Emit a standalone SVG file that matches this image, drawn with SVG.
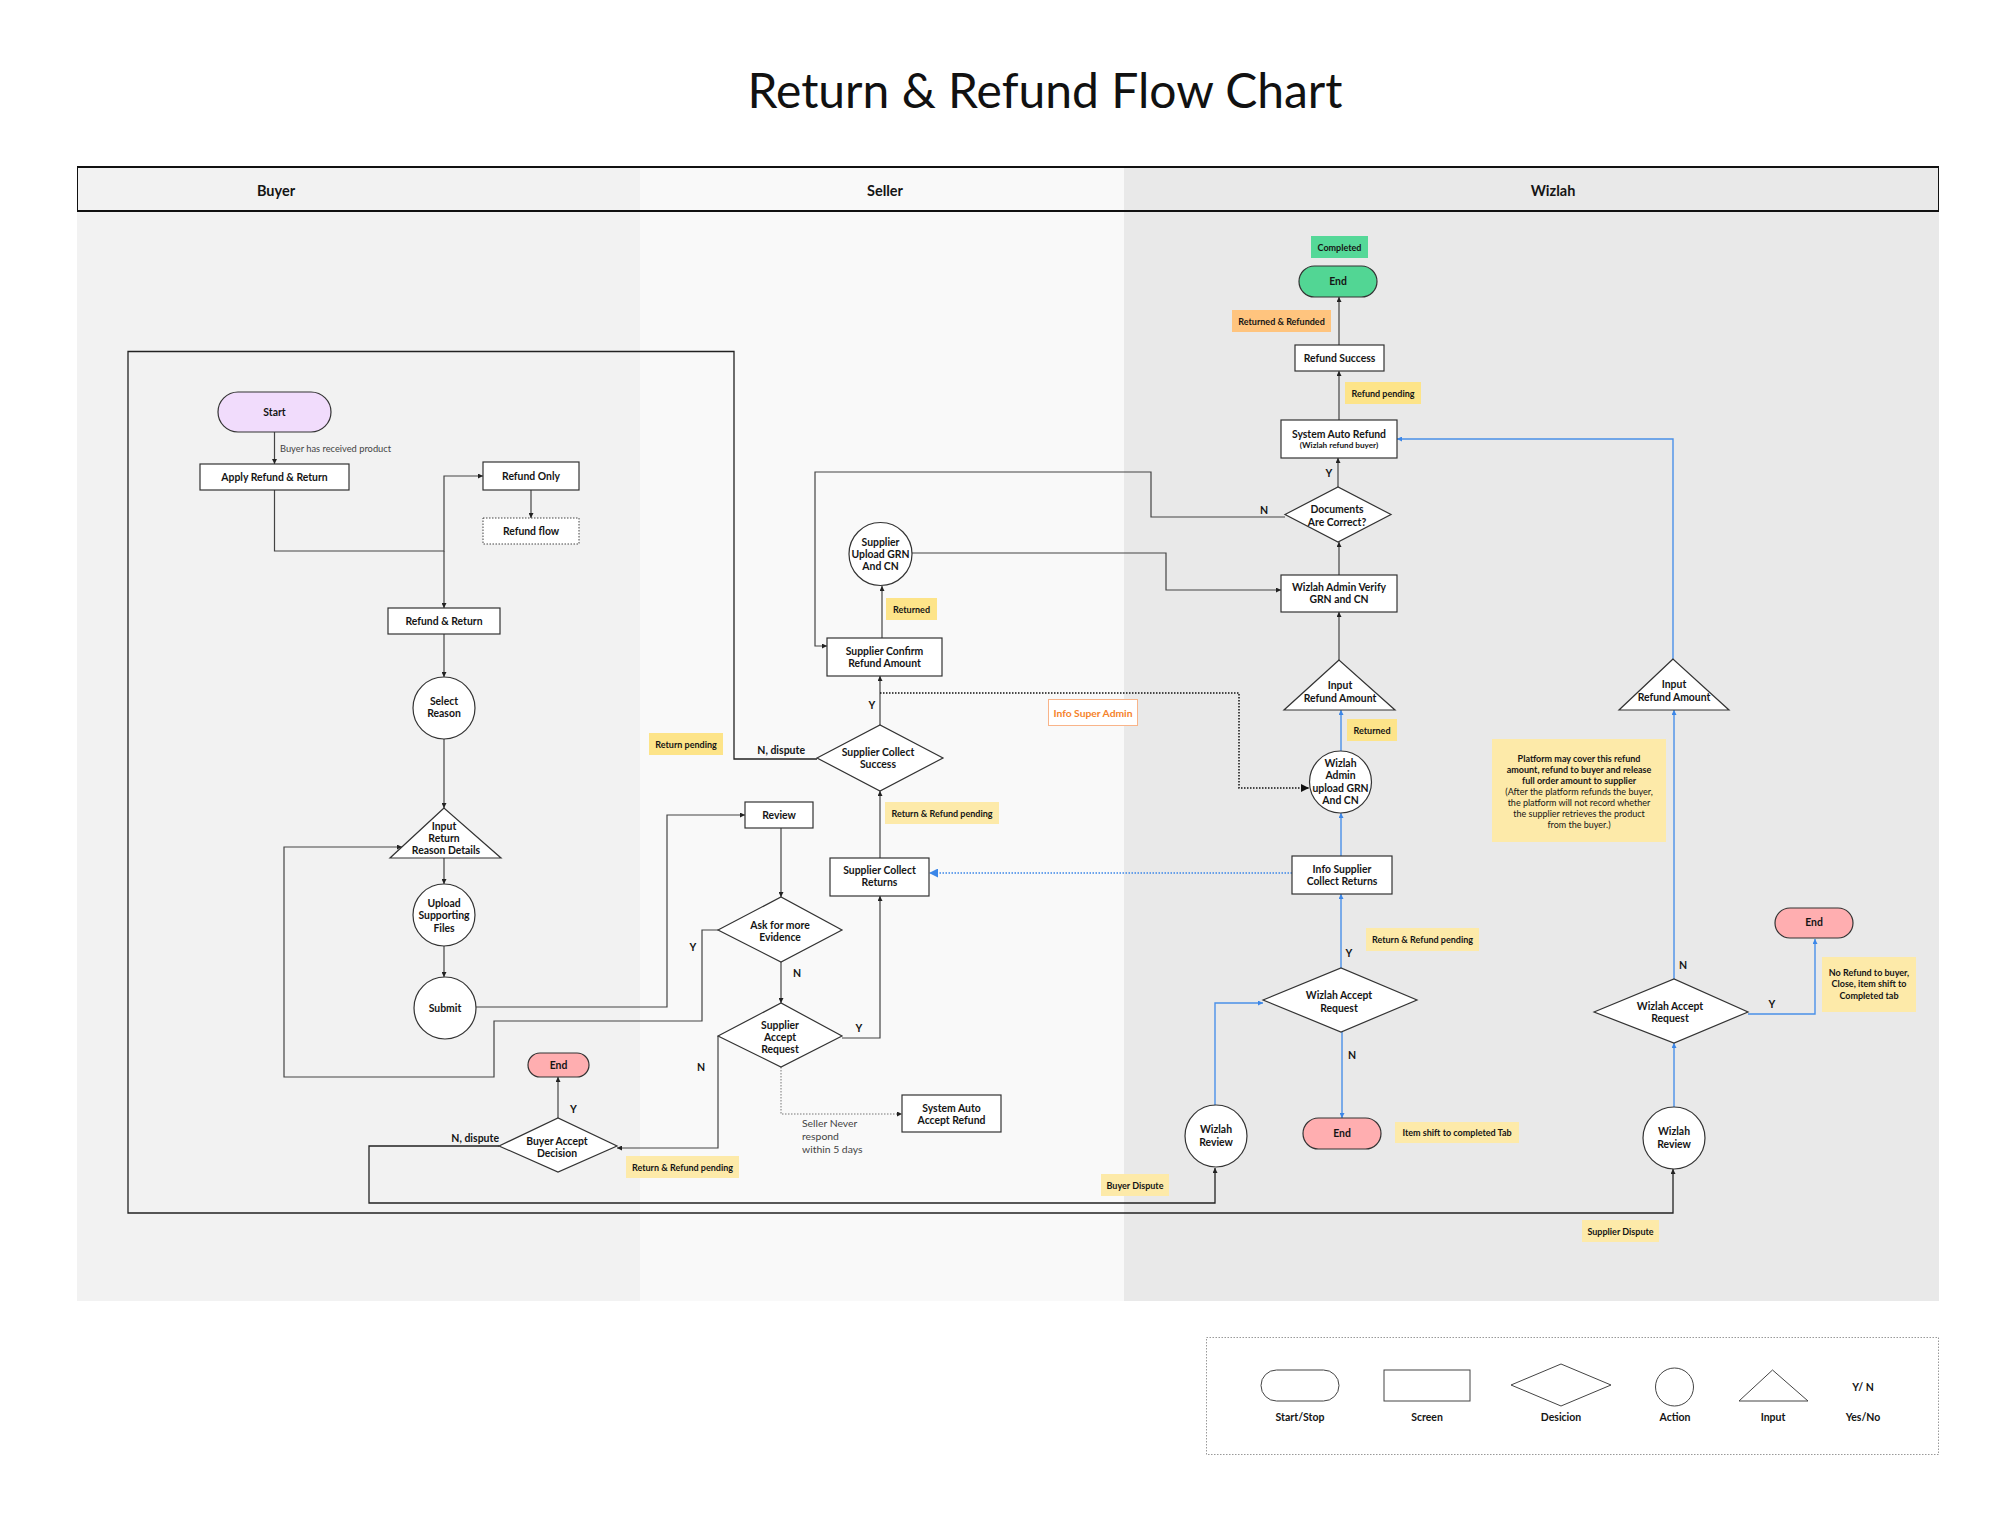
<svg xmlns="http://www.w3.org/2000/svg" width="2014" height="1519" viewBox="0 0 2014 1519">
<style>
text{font-family:Lato,"Liberation Sans",sans-serif;fill:#151515}
.t{font-weight:700;font-size:10.4px;text-anchor:middle}
.ts{font-weight:700;font-size:8.2px;text-anchor:middle}
.tg{font-weight:700;font-size:9px;text-anchor:middle}
.lb{font-weight:700;font-size:10.5px}
.rg{font-weight:400;font-size:10.4px;fill:#444}
.nt{font-size:9px;text-anchor:middle}
.hd{font-weight:700;font-size:14.5px;text-anchor:middle}
.box{fill:#fff;stroke:#333;stroke-width:1.2}
.ln{fill:none;stroke:#444;stroke-width:1.2}
.bl{fill:none;stroke:#4a90e8;stroke-width:1.4}
.y1{fill:#fde489}
.y2{fill:#fdeaa9}
.lg{fill:#fff;stroke:#444;stroke-width:1}
.lt{font-weight:700;font-size:10.5px;text-anchor:middle}
</style>
<defs>
<marker id="ah" viewBox="0 0 6 6" refX="6" refY="3" markerWidth="5" markerHeight="5" orient="auto" markerUnits="userSpaceOnUse"><path d="M0,0L6,3L0,6z" fill="#222"/></marker>
<marker id="ahb" viewBox="0 0 6 6" refX="6" refY="3" markerWidth="5" markerHeight="5" orient="auto" markerUnits="userSpaceOnUse"><path d="M0,0L6,3L0,6z" fill="#3b86e8"/></marker>
<marker id="ahl" viewBox="0 0 6 6" refX="6" refY="3" markerWidth="9" markerHeight="9" orient="auto" markerUnits="userSpaceOnUse"><path d="M0,0L6,3L0,6z" fill="#3b86e8"/></marker>
<marker id="ahd" viewBox="0 0 6 6" refX="6" refY="3" markerWidth="8" markerHeight="8" orient="auto" markerUnits="userSpaceOnUse"><path d="M0,0L6,3L0,6z" fill="#111"/></marker>
</defs>
<rect width="2014" height="1519" fill="#fff"/>
<text x="1045" y="108" style="font-size:48px;font-weight:400;text-anchor:middle;fill:#111">Return &amp; Refund Flow Chart</text>

<g id="lanes">
<rect x="77" y="166" width="563" height="1135" fill="#f2f2f2"/>
<rect x="640" y="166" width="484" height="1135" fill="#f9f9f9"/>
<rect x="1124" y="166" width="815" height="1135" fill="#e9e9e9"/>
<line x1="77" y1="167" x2="1939" y2="167" stroke="#111" stroke-width="2"/>
<line x1="77" y1="211" x2="1939" y2="211" stroke="#111" stroke-width="2"/>
<line x1="77.5" y1="166" x2="77.5" y2="211" stroke="#111" stroke-width="1"/>
<line x1="1938.5" y1="166" x2="1938.5" y2="211" stroke="#111" stroke-width="1"/>
<text class="hd" x="276" y="196">Buyer</text>
<text class="hd" x="885" y="196">Seller</text>
<text class="hd" x="1553" y="196">Wizlah</text>
</g>

<g id="connectors">
<path class="ln" d="M274.5,432V464" marker-end="url(#ah)"/>
<path class="ln" d="M274.5,490V551H444V476H483" marker-end="url(#ah)"/>
<path class="ln" d="M444,551V608" marker-end="url(#ah)"/>
<path class="ln" d="M531,490V518" marker-end="url(#ah)"/>
<path class="ln" d="M444,634V677" marker-end="url(#ah)"/>
<path class="ln" d="M444,739V808" marker-end="url(#ah)"/>
<path class="ln" d="M444,858V884" marker-end="url(#ah)"/>
<path class="ln" d="M444,946V977" marker-end="url(#ah)"/>
<path class="ln" d="M476,1007H667V815H745" marker-end="url(#ah)"/>
<path class="ln" d="M781,828V897" marker-end="url(#ah)"/>
<path class="ln" d="M718,930H702V1021H494V1077H284V847H402" marker-end="url(#ah)"/>
<path class="ln" d="M781,962V1003" marker-end="url(#ah)"/>
<path class="ln" d="M842,1038H880V896" marker-end="url(#ah)"/>
<path class="ln" d="M718,1036V1148H617" marker-end="url(#ah)"/>
<path d="M781,1067V1114H902" fill="none" stroke="#777" stroke-width="1" stroke-dasharray="1.5,1.5" marker-end="url(#ah)"/>
<path class="ln" d="M880,858V791" marker-end="url(#ah)"/>
<path class="ln" d="M880,725V676" marker-end="url(#ah)"/>
<path d="M817,759H734V351.5H128V1213H1673V1169" fill="none" stroke="#222" stroke-width="1.3" marker-end="url(#ah)"/>
<path d="M880,693H1239V788H1309" fill="none" stroke="#111" stroke-width="1.5" stroke-dasharray="1.5,1.5" marker-end="url(#ahd)"/>
<path class="ln" d="M882,638V586" marker-end="url(#ah)"/>
<path class="ln" d="M912,553H1166V590H1281" marker-end="url(#ah)"/>
<path class="ln" d="M1285,517H1151V472H815V646H827" marker-end="url(#ah)"/>
<path class="ln" d="M1339,575V542" marker-end="url(#ah)"/>
<path class="ln" d="M1338,487V458" marker-end="url(#ah)"/>
<path class="ln" d="M1339,420V371" marker-end="url(#ah)"/>
<path class="ln" d="M1339,345V297" marker-end="url(#ah)"/>
<path class="ln" d="M1339,660V612" marker-end="url(#ah)"/>
<path class="ln" d="M558,1118V1077" marker-end="url(#ah)"/>
<path d="M499,1146H369V1203H1215V1168" fill="none" stroke="#222" stroke-width="1.3" marker-end="url(#ah)"/>
<path class="bl" d="M1341,751V710" marker-end="url(#ahb)"/>
<path class="bl" d="M1341,856V813" marker-end="url(#ahb)"/>
<path d="M1292,873H929" fill="none" stroke="#3b86e8" stroke-width="1.6" stroke-dasharray="1.5,1.5" marker-end="url(#ahl)"/>
<path class="bl" d="M1341,968V894" marker-end="url(#ahb)"/>
<path class="bl" d="M1342,1032V1118" marker-end="url(#ahb)"/>
<path class="bl" d="M1215,1105V1003H1263" marker-end="url(#ahb)"/>
<path class="bl" d="M1674,1107V1043" marker-end="url(#ahb)"/>
<path class="bl" d="M1674,979V710" marker-end="url(#ahb)"/>
<path class="bl" d="M1748,1014H1815V939" marker-end="url(#ahb)"/>
<path class="bl" d="M1673,659V439H1397" marker-end="url(#ahb)"/>
<text class="rg" x="280" y="452" style="font-size:9.3px">Buyer has received product</text>
<text class="lb" x="570" y="1113">Y</text>
<text class="lb" x="499" y="1141.5" text-anchor="end">N, dispute</text>
<text class="lb" x="805" y="754" text-anchor="end">N, dispute</text>
<text class="lb" x="872" y="709" text-anchor="middle">Y</text>
<text class="lb" x="693" y="951" text-anchor="middle">Y</text>
<text class="lb" x="797" y="977" text-anchor="middle">N</text>
<text class="lb" x="859" y="1032" text-anchor="middle">Y</text>
<text class="lb" x="701" y="1071" text-anchor="middle">N</text>
<text class="rg" x="802" y="1127">Seller Never</text>
<text class="rg" x="802" y="1140">respond</text>
<text class="rg" x="802" y="1152.5">within 5 days</text>
<text class="lb" x="1264" y="514" text-anchor="middle">N</text>
<text class="lb" x="1329" y="477" text-anchor="middle">Y</text>
<text class="lb" x="1349" y="957" text-anchor="middle">Y</text>
<text class="lb" x="1352" y="1059" text-anchor="middle">N</text>
<text class="lb" x="1683" y="969" text-anchor="middle">N</text>
<text class="lb" x="1772" y="1008" text-anchor="middle">Y</text>
</g>

<g id="start"><rect x="218" y="392" width="113" height="40" rx="20" fill="#f1dcfc" stroke="#333" stroke-width="1.2"/><text class="t" x="274.5" y="415.5">Start</text></g>
<g id="apply"><rect class="box" x="200" y="464" width="149" height="26"/><text class="t" x="274.5" y="480.5">Apply Refund &amp; Return</text></g>
<g id="refund-only"><rect class="box" x="483" y="462" width="96" height="28"/><text class="t" x="531" y="479.5">Refund Only</text></g>
<g id="refund-flow"><rect x="483" y="518" width="96" height="26" fill="#fff" stroke="#444" stroke-width="1" stroke-dasharray="1.5,1.5"/><text class="t" x="531" y="534.5">Refund flow</text></g>
<g id="refund-return"><rect class="box" x="388" y="608" width="112" height="26"/><text class="t" x="444" y="624.5">Refund &amp; Return</text></g>
<g id="select-reason"><circle class="box" cx="444" cy="708" r="31"/><text class="t" x="444" y="704.5">Select</text><text class="t" x="444" y="717">Reason</text></g>
<g id="input-reason"><path class="box" d="M444,808L390,858H501Z"/><text class="t" x="444" y="829.5">Input</text><text class="t" x="444" y="841.5">Return</text><text class="t" x="446" y="854">Reason Details</text></g>
<g id="upload-files"><circle class="box" cx="444" cy="915" r="31"/><text class="t" x="444" y="906.5">Upload</text><text class="t" x="444" y="919">Supporting</text><text class="t" x="444" y="931.5">Files</text></g>
<g id="submit"><circle class="box" cx="445" cy="1008" r="31"/><text class="t" x="445" y="1011.5">Submit</text></g>
<g id="buyer-end"><rect x="528" y="1053" width="61" height="24" rx="12" fill="#ffaeb0" stroke="#333" stroke-width="1.2"/><text class="t" x="558.5" y="1068.5">End</text></g>
<g id="buyer-accept"><path class="box" d="M499,1146L558,1118L617,1146L558,1172Z"/><text class="t" x="557" y="1144.5">Buyer Accept</text><text class="t" x="557" y="1157">Decision</text></g>

<g id="supplier-upload"><circle class="box" cx="880.5" cy="554" r="31.5"/><text class="t" x="880.5" y="545.5">Supplier</text><text class="t" x="880.5" y="557.5">Upload GRN</text><text class="t" x="880.5" y="570">And CN</text></g>
<g id="supplier-confirm"><rect class="box" x="827" y="638" width="115" height="38"/><text class="t" x="884.5" y="654.5">Supplier Confirm</text><text class="t" x="884.5" y="667">Refund Amount</text></g>
<g id="collect-success"><path class="box" d="M817,758L880,725L943,758L880,791Z"/><text class="t" x="878" y="755.5">Supplier Collect</text><text class="t" x="878" y="768">Success</text></g>
<g id="review"><rect class="box" x="745" y="802" width="68" height="26"/><text class="t" x="779" y="818.5">Review</text></g>
<g id="ask-evidence"><path class="box" d="M718,930L781,897L842,930L781,962Z"/><text class="t" x="780" y="928.5">Ask for more</text><text class="t" x="780" y="941">Evidence</text></g>
<g id="collect-returns"><rect class="box" x="830" y="858" width="99" height="38"/><text class="t" x="879.5" y="873.5">Supplier Collect</text><text class="t" x="879.5" y="886">Returns</text></g>
<g id="supplier-accept"><path class="box" d="M718,1036L781,1003L842,1036L781,1067Z"/><text class="t" x="780" y="1028.5">Supplier</text><text class="t" x="780" y="1041">Accept</text><text class="t" x="780" y="1053">Request</text></g>
<g id="auto-accept"><rect class="box" x="902" y="1095" width="99" height="37"/><text class="t" x="951.5" y="1111.5">System Auto</text><text class="t" x="951.5" y="1124">Accept Refund</text></g>

<g id="end-completed"><rect x="1299" y="266" width="78" height="31" rx="15.5" fill="#52d694" stroke="#333" stroke-width="1.2"/><text class="t" x="1338" y="284.5">End</text></g>
<g id="refund-success"><rect class="box" x="1295" y="345" width="89" height="26"/><text class="t" x="1339.5" y="361.5">Refund Success</text></g>
<g id="auto-refund"><rect class="box" x="1281" y="420" width="116" height="38"/><text class="t" x="1339" y="437.5">System Auto Refund</text><text class="ts" x="1339" y="448">(Wizlah refund buyer)</text></g>
<g id="documents"><path class="box" d="M1285,514.5L1338,487L1391,514.5L1338,542Z"/><text class="t" x="1337" y="513">Documents</text><text class="t" x="1337" y="525.5">Are Correct?</text></g>
<g id="admin-verify"><rect class="box" x="1281" y="575" width="116" height="37"/><text class="t" x="1339" y="590.5">Wizlah Admin Verify</text><text class="t" x="1339" y="603">GRN and CN</text></g>
<g id="input-refund"><path class="box" d="M1339,660L1284,710H1395Z"/><text class="t" x="1340" y="689">Input</text><text class="t" x="1340" y="701.5">Refund Amount</text></g>
<g id="admin-upload"><circle class="box" cx="1340.5" cy="782" r="31"/><text class="t" x="1340.5" y="766.5">Wizlah</text><text class="t" x="1340.5" y="779">Admin</text><text class="t" x="1340.5" y="791.5">upload GRN</text><text class="t" x="1340.5" y="804">And CN</text></g>
<g id="info-supplier"><rect class="box" x="1292" y="856" width="100" height="38"/><text class="t" x="1342" y="872.5">Info Supplier</text><text class="t" x="1342" y="885">Collect Returns</text></g>
<g id="wizlah-accept"><path class="box" d="M1263,1000L1341,968L1417,1000L1341,1032Z"/><text class="t" x="1339" y="998.5">Wizlah Accept</text><text class="t" x="1339" y="1011.5">Request</text></g>
<g id="end-wizlah"><rect x="1303" y="1118" width="78" height="31" rx="15.5" fill="#ffaeb0" stroke="#333" stroke-width="1.2"/><text class="t" x="1342" y="1137">End</text></g>
<g id="wizlah-review"><circle class="box" cx="1216" cy="1136" r="31"/><text class="t" x="1216" y="1132.5">Wizlah</text><text class="t" x="1216" y="1145.5">Review</text></g>
<g id="input-refund-2"><path class="box" d="M1673,659L1619,710H1729Z"/><text class="t" x="1674" y="688">Input</text><text class="t" x="1674" y="701">Refund Amount</text></g>
<g id="wizlah-accept-2"><path class="box" d="M1594,1012L1674,979L1748,1012L1674,1043Z"/><text class="t" x="1670" y="1009.5">Wizlah Accept</text><text class="t" x="1670" y="1022">Request</text></g>
<g id="end-right"><rect x="1775" y="908" width="78" height="30" rx="15" fill="#ffaeb0" stroke="#333" stroke-width="1.2"/><text class="t" x="1814" y="926">End</text></g>
<g id="wizlah-review-2"><circle class="box" cx="1674" cy="1138" r="31"/><text class="t" x="1674" y="1134.5">Wizlah</text><text class="t" x="1674" y="1147.5">Review</text></g>

<g id="notes">
<rect class="y1" x="649" y="733" width="74" height="22"/><text class="tg" x="686" y="747.5">Return pending</text>
<rect class="y1" x="886" y="598" width="51" height="22"/><text class="tg" x="911.5" y="612.5">Returned</text>
<rect class="y2" x="885" y="802" width="114" height="22"/><text class="tg" x="942" y="816.5">Return &amp; Refund pending</text>
<rect class="y2" x="626" y="1156" width="113" height="22"/><text class="tg" x="682.5" y="1170.5">Return &amp; Refund pending</text>
<rect class="y2" x="1101" y="1174" width="68" height="22"/><text class="tg" x="1135" y="1188.5">Buyer Dispute</text>
<rect x="1048.5" y="699.5" width="89" height="26" fill="#fff" stroke="#f9b489" stroke-width="1"/><text class="tg" x="1093" y="716.5" style="fill:#f5822a;font-size:10.3px">Info Super Admin</text>
<rect x="1311" y="236" width="57" height="22" fill="#55d898"/><text class="tg" x="1339.5" y="250.5">Completed</text>
<rect x="1232" y="310" width="99" height="22" fill="#ffc47e"/><text class="tg" x="1281.5" y="324.5">Returned &amp; Refunded</text>
<rect class="y1" x="1345" y="382" width="76" height="22"/><text class="tg" x="1383" y="396.5">Refund pending</text>
<rect class="y1" x="1347" y="719" width="50" height="22"/><text class="tg" x="1372" y="733.5">Returned</text>
<rect class="y2" x="1366" y="928" width="113" height="23"/><text class="tg" x="1422.5" y="943">Return &amp; Refund pending</text>
<rect class="y2" x="1395" y="1122" width="124" height="21"/><text class="tg" x="1457" y="1136">Item shift to completed Tab</text>
<rect class="y2" x="1582" y="1220" width="77" height="22"/><text class="tg" x="1620.5" y="1234.5">Supplier Dispute</text>
<rect class="y2" x="1492" y="739" width="174" height="103"/>
<text class="nt" x="1579" y="761.5" style="font-weight:700">Platform may cover this refund</text>
<text class="nt" x="1579" y="772.5" style="font-weight:700">amount, refund to buyer and release</text>
<text class="nt" x="1579" y="783.5" style="font-weight:700">full order amount to supplier</text>
<text class="nt" x="1579" y="794.5">(After the platform refunds the buyer,</text>
<text class="nt" x="1579" y="805.5">the platform will not record whether</text>
<text class="nt" x="1579" y="816.5">the supplier retrieves the product</text>
<text class="nt" x="1579" y="827.5">from the buyer.)</text>
<rect class="y2" x="1822" y="957" width="94" height="55"/>
<text class="nt" x="1869" y="976" style="font-weight:700">No Refund to buyer,</text>
<text class="nt" x="1869" y="987" style="font-weight:700">Close, item shift to</text>
<text class="nt" x="1869" y="998.5" style="font-weight:700">Completed tab</text>
</g>

<g id="legend">
<rect x="1206.5" y="1337.5" width="732" height="117" fill="none" stroke="#999" stroke-width="1" stroke-dasharray="1.5,1.5"/>
<rect class="lg" x="1261" y="1370" width="78" height="31" rx="15.5"/>
<rect class="lg" x="1384" y="1370" width="86" height="31"/>
<path class="lg" d="M1511,1385L1561,1364L1611,1385L1561,1406Z"/>
<circle class="lg" cx="1674.5" cy="1387" r="19"/>
<path class="lg" d="M1772.5,1370L1739,1401H1808Z"/>
<text class="lt" x="1863" y="1390.5">Y/ N</text>
<text class="lt" x="1300" y="1420.5">Start/Stop</text>
<text class="lt" x="1427" y="1420.5">Screen</text>
<text class="lt" x="1561" y="1420.5">Desicion</text>
<text class="lt" x="1675" y="1420.5">Action</text>
<text class="lt" x="1773" y="1420.5">Input</text>
<text class="lt" x="1863" y="1420.5">Yes/No</text>
</g>
</svg>
